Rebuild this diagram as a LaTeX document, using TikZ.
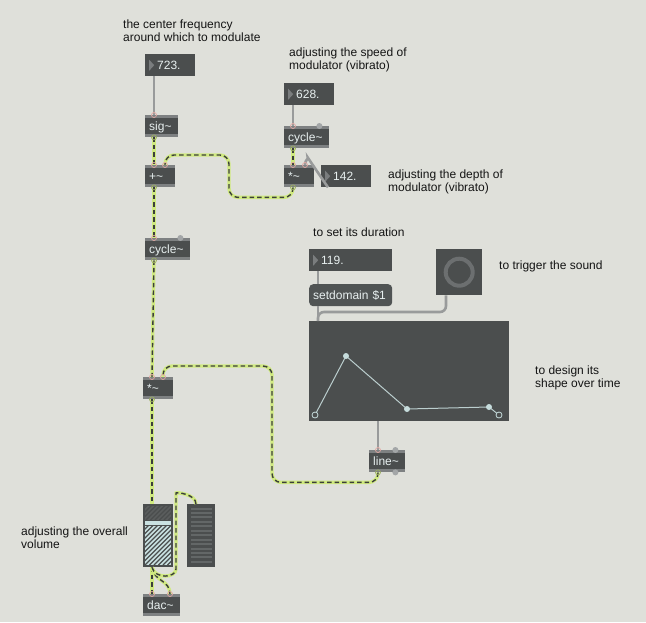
\documentclass[tikz,border=0pt]{standalone}
\usepackage{fontspec}
\setmainfont{Liberation Sans}
\usepackage{tikz}

\definecolor{patchbg}{HTML}{DFE0DA}
\definecolor{boxgray}{HTML}{4B4E4E}
\definecolor{msggray}{HTML}{505454}
\definecolor{stripgray}{HTML}{7E8182}
\definecolor{boxtext}{HTML}{E8F0F0}
\definecolor{bumpgray}{HTML}{A3A6A7}
\definecolor{cordgray}{HTML}{999B9B}
\definecolor{sigyellow}{HTML}{D0EA80}
\definecolor{sigdark}{HTML}{3B3E3B}
\definecolor{inletpink}{HTML}{E3A7A2}
\definecolor{envpoint}{HTML}{C6DCDC}
\definecolor{ringgray}{HTML}{6C6F70}
\definecolor{tricol}{HTML}{7A7D7E}
\definecolor{gainlight}{HTML}{C9E1E1}
\definecolor{gaindark}{HTML}{5A5D5D}
\definecolor{meterseg}{HTML}{636767}
\definecolor{commenttext}{HTML}{141414}

\tikzset{
  boxfont/.style={font=\fontsize{12}{13}\selectfont},
  obj/.style={boxfont, anchor=north west, fill=boxgray, text=boxtext,
    inner xsep=4pt, inner ysep=0pt, minimum height=22pt,
    text height=10.5pt, text depth=2pt, align=left,
    path picture={
      \fill[stripgray] (path picture bounding box.north west) rectangle ([yshift=-3pt]path picture bounding box.north east);
      \fill[stripgray] (path picture bounding box.south west) rectangle ([yshift=3pt]path picture bounding box.south east);
    }},
  numbox/.style={boxfont, anchor=north west, fill=boxgray, text=boxtext,
    inner xsep=4pt, inner ysep=0pt, minimum height=22pt,
    text height=10.5pt, text depth=2pt, align=left,
    execute at begin node={\noindent\hspace*{8pt}},
    path picture={
      \fill[tricol] ([xshift=4pt,yshift=5.5pt]path picture bounding box.west) -- ++(5pt,-5.5pt) -- ++(-5pt,-5.5pt) -- cycle;
    }},
  msg/.style={boxfont, anchor=north west, fill=msggray, text=boxtext,
    rounded corners=4pt, inner xsep=4pt, inner ysep=0pt, minimum height=22pt,
    text height=10.5pt, text depth=2pt, align=left},
  ui/.style={anchor=north west, fill=boxgray, inner sep=0pt},
  comment/.style={font=\fontsize{12}{13}\selectfont, text=commenttext,
    anchor=north west, inner sep=0pt, align=left},
  ctlcord/.style={draw=cordgray, line width=2.6pt, rounded corners=6pt},
  sigcord/.style={draw=sigyellow, line width=3.4pt, rounded corners=9pt,
    postaction={draw=sigdark, line width=1.4pt, dash pattern=on 4.5pt off 3pt}},
  inlet/.style={draw=inletpink, line width=0.7pt},
  outlet/.style={draw=sigyellow!75!black, line width=0.7pt}
}

\begin{document}
\begin{tikzpicture}[x=1pt,y=-1pt]
    \fill[patchbg] (0,0) rectangle (646,622);
    \useasboundingbox (0,0) rectangle (646,622);

    % comments
    \node[comment] (cfreq) at (123,20) {the center frequency\\around which to modulate};
    \node[comment] (cspeed) at (289,48) {adjusting the speed of\\modulator (vibrato)};
    \node[comment] (cdepth) at (388,170) {adjusting the depth of\\modulator (vibrato)};
    \node[comment] (cdur) at (313,228) {to set its duration};
    \node[comment] (ctrig) at (499,261) {to trigger the sound};
    \node[comment] (cshape) at (535,366) {to design its\\shape over time};
    \node[comment] (cvol) at (21,527) {adjusting the overall\\volume};

    % objects
    \node[numbox, text width=42pt] (freq) at (145,54) {723.};
    \node[obj, text width=25pt] (sig) at (145,115) {sig\textasciitilde};
    \node[obj, text width=22pt] (plus) at (145,165) {+\textasciitilde};
    \node[obj, text width=37pt] (carrier) at (145,238) {cycle\textasciitilde};
    \node[obj, text width=22pt] (amp) at (143,377) {*\textasciitilde};
    \node[numbox, text width=42pt] (rate) at (284,83) {628.};
    \node[obj, text width=37pt] (lfo) at (284,126) {cycle\textasciitilde};
    \node[obj, text width=22pt] (depth) at (284,165) {*\textasciitilde};
    \node[numbox, text width=42pt] (depthnum) at (321,165) {142.};
    \node[numbox, text width=75pt] (dur) at (309,249) {119.};
    \node[msg, text width=75pt] (setdom) at (309,284) {setdomain \$1};
    \node[ui, minimum size=46pt] (bang) at (436,249) {};
    \node[ui, minimum width=200pt, minimum height=100pt] (env) at (309,321) {};
    \node[obj, text width=28pt] (ramp) at (369,450) {line\textasciitilde};
    \node[ui, minimum width=30pt, minimum height=63pt] (gain) at (143,504) {};
    \node[ui, minimum width=28pt, minimum height=63pt] (meter) at (187,504) {};
    \node[obj, text width=29pt] (dac) at (143,594) {dac\textasciitilde};

    % button ring
    \draw[ringgray, line width=4pt] (bang.center) circle (13.5pt);

    % envelope
    \draw[envpoint!85!gray, line width=1pt] (315,415) -- (346,356) -- (407,409) -- (489,407) -- (499,415);
    \foreach \p in {(346,356),(407,409),(489,407)}
    \fill[envpoint] \p circle (3pt);
    \foreach \p in {(315,415),(499,415)}
    \filldraw[fill=boxgray, draw=envpoint, line width=0.8pt] \p circle (3pt);

    % gain slider
    \fill[gaindark] (145,506) rectangle (171,520);
    \fill[gainlight] (145,521) rectangle (171,524.5);
    \fill[gainlight] (145,525.5) rectangle (171,565);
    \begin{scope}
        \clip (145,506) rectangle (171,520);
        \foreach \i in {110,114.5,...,175}
        \draw[boxgray, line width=1.3pt] (\i,520) -- ++(20,-20);
    \end{scope}
    \begin{scope}
        \clip (145,525.5) rectangle (171,565);
        \foreach \i in {100,104.5,...,175}
        \draw[boxgray, line width=1.4pt] (\i,565) -- ++(45,-45);
    \end{scope}

    % meter
    \foreach \k in {0,...,12}
    \fill[meterseg] (191,507.5+4.45*\k) rectangle (212,509.5+4.45*\k);

    % control cords
    \draw[ctlcord] ([xshift=9pt]freq.south west) -- ([xshift=9pt]sig.north west);
    \draw[ctlcord] ([xshift=9pt]rate.south west) -- ([xshift=9pt]lfo.north west);
    \draw[ctlcord] ([xshift=7pt]depthnum.south west) -- ++(-17,-25) .. controls +(-2,-3) and +(0,-6) .. ([xshift=21pt]depth.north west);
    \draw[ctlcord] ([xshift=9pt]dur.south west) -- ([xshift=9pt]setdom.north west);
    \draw[ctlcord] ([xshift=9pt]setdom.south west) -- ([xshift=9pt]env.north west);
    \draw[ctlcord] ([xshift=10pt]bang.south west) |- ([xshift=9pt,yshift=9pt]env.north west) -- ([xshift=9pt]env.north west);
    \draw[ctlcord] ([xshift=69pt]env.south west) -- ([xshift=9pt]ramp.north west);

    % signal cords
    \draw[sigcord] ([xshift=9pt]sig.south west) -- ([xshift=9pt]plus.north west);
    \draw[sigcord] ([xshift=9pt]depth.south west) -- ++(0,10) -| (229,155) -| ([xshift=20pt]plus.north west);
    \draw[sigcord] ([xshift=9pt]lfo.south west) -- ([xshift=9pt]depth.north west);
    \draw[sigcord] ([xshift=9pt]plus.south west) -- ([xshift=9pt]carrier.north west);
    \draw[sigcord] ([xshift=9pt]carrier.south west) -- ([xshift=9pt]amp.north west);
    \draw[sigcord] ([xshift=9pt]ramp.south west) -- ++(0,10) -| (272,366) -| ([xshift=20pt]amp.north west);
    \draw[sigcord] ([xshift=9pt]amp.south west) -- ([xshift=9pt]gain.north west);
    \draw[sigcord] ([xshift=9pt]gain.south west) -- ([xshift=9pt]dac.north west);
    \draw[sigcord] ([xshift=9pt]gain.south west) .. controls +(2,14) and +(0,-14) .. ([xshift=27pt]dac.north west);
    \draw[sigcord] ([xshift=9pt]gain.south west) .. controls +(3,12) and +(0,18) .. (176,560) -- (176,502) .. controls +(0,-10) and +(0,-10) .. ([xshift=9pt]meter.north west);

    % inlets and outlets
    \foreach \n/\dx in {sig/9,plus/9,plus/20,carrier/9,amp/9,amp/20,lfo/9,depth/9,depth/21,ramp/9,dac/9,dac/27}
    \draw[inlet] ([xshift=\dx pt]\n.north west) circle (2.5pt);
    \foreach \n in {sig,plus,carrier,amp,lfo,depth,ramp}
    \draw[outlet] ([xshift=9pt]\n.south west) circle (2.5pt);
    \foreach \a in {carrier.north east,lfo.north east,ramp.north east,ramp.south east}
    \fill[bumpgray] ([xshift=-10pt]\a) circle (3pt);
\end{tikzpicture}
\end{document}
